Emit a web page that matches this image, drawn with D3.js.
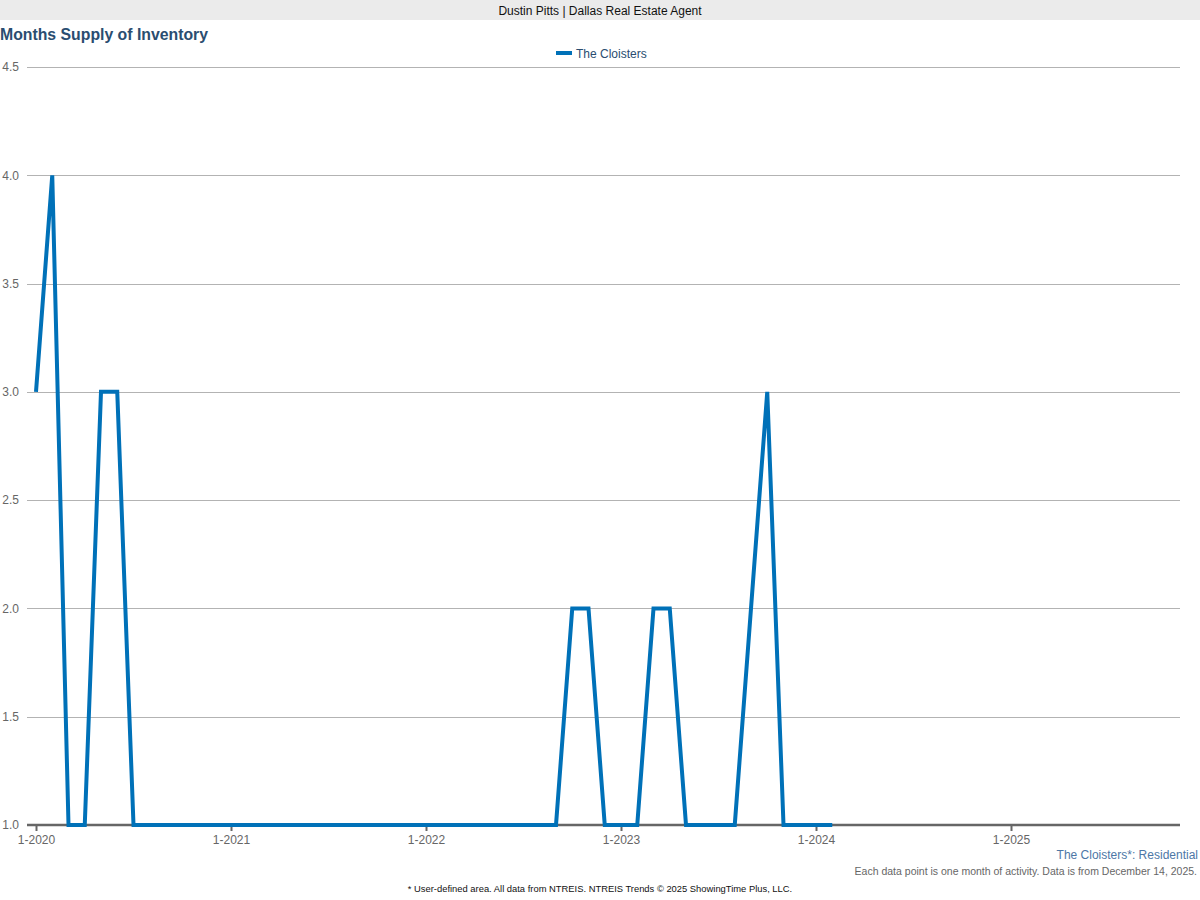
<!DOCTYPE html>
<html>
<head>
<meta charset="utf-8">
<script src="https://cdn.jsdelivr.net/npm/d3@7"></script>
<style>
  html, body { margin: 0; padding: 0; background: #fff; }
  svg { display: block; font-family: "Liberation Sans", Arial, sans-serif; }
</style>
</head>
<body>
<svg id="chart" width="1200" height="900"></svg>
<script>
// ---- data ----
const startYear = 2020;
const seriesName = "The Cloisters";
// monthly values, Jan 2020 .. Feb 2024
const months = [
  "2020-01","2020-02","2020-03","2020-04","2020-05","2020-06","2020-07","2020-08","2020-09","2020-10","2020-11","2020-12",
  "2021-01","2021-02","2021-03","2021-04","2021-05","2021-06","2021-07","2021-08","2021-09","2021-10","2021-11","2021-12",
  "2022-01","2022-02","2022-03","2022-04","2022-05","2022-06","2022-07","2022-08","2022-09","2022-10","2022-11","2022-12",
  "2023-01","2023-02","2023-03","2023-04","2023-05","2023-06","2023-07","2023-08","2023-09","2023-10","2023-11","2023-12",
  "2024-01","2024-02"
];
const values = [
  3,4,1,1,3,3,1,1,1,1,1,1,
  1,1,1,1,1,1,1,1,1,1,1,1,
  1,1,1,1,1,1,1,1,1,2,2,1,
  1,1,2,2,1,1,1,1,2,3,1,1,
  1,1
];
const xTickLabels = ["1-2020","1-2021","1-2022","1-2023","1-2024","1-2025"];
const yTickValues = [1.0,1.5,2.0,2.5,3.0,3.5,4.0,4.5];
const monthDomainEnd = 70.4; // axis runs to late 2025

// ---- layout ----
const svg = d3.select("#chart");
const W = 1200, H = 900;
const plot = { left: 36, right: 1180, top: 67, bottom: 825 };

// header bar
svg.append("rect").attr("x",0).attr("y",0).attr("width",W).attr("height",20).attr("fill","#ebebeb");
svg.append("text").attr("x",W/2).attr("y",15).attr("text-anchor","middle")
  .attr("font-size",12).attr("fill","#111").text("Dustin Pitts | Dallas Real Estate Agent");

// title
svg.append("text").attr("x",0).attr("y",40).attr("font-size",15.8).attr("font-weight","bold")
  .attr("fill","#2a4d70").text("Months Supply of Inventory");

// scales
const x = d3.scaleLinear().domain([0, monthDomainEnd]).range([plot.left, plot.left + monthDomainEnd*16.25]);
const y = d3.scaleLinear().domain([1, 4.5]).range([plot.bottom, plot.top]);

const monthIndex = m => { const [yy, mm] = m.split("-").map(Number); return (yy - startYear)*12 + (mm - 1); };
const data = months.map((m,i) => ({ t: monthIndex(m), v: values[i] }));

// gridlines + y labels
const yAxis = d3.axisLeft(y).tickValues(yTickValues).tickFormat(d3.format(".1f")).tickSize(0).tickPadding(8);
const gy = svg.append("g").attr("transform",`translate(27,0)`).call(yAxis);
gy.select(".domain").remove();
gy.selectAll("text").attr("font-size",12).attr("fill","#666").attr("font-family","Liberation Sans, Arial, sans-serif").attr("dy","0.32em");

svg.append("g").selectAll("line").data(yTickValues.filter(d => d > 1)).join("line")
  .attr("x1",27).attr("x2",plot.right).attr("y1",d => Math.round(y(d))+0.5).attr("y2",d => Math.round(y(d))+0.5)
  .attr("stroke","#b3b3b3").attr("stroke-width",1);

// x axis
const xTickPos = xTickLabels.map((d,i) => i*12);
const xAxis = d3.axisBottom(x).tickValues(xTickPos).tickFormat((d,i) => xTickLabels[i]).tickSize(6).tickPadding(4);
const gx = svg.append("g").attr("transform",`translate(0,${plot.bottom})`).call(xAxis);
gx.select(".domain").remove();
gx.selectAll(".tick line").attr("stroke","#666").attr("stroke-width",2);
gx.selectAll("text").attr("font-size",12).attr("fill","#666").attr("font-family","Liberation Sans, Arial, sans-serif");
svg.append("line").attr("x1",27).attr("x2",plot.right).attr("y1",plot.bottom).attr("y2",plot.bottom)
  .attr("stroke","#666").attr("stroke-width",2.5);

// line
const line = d3.line().x(d => x(d.t)).y(d => y(d.v));
svg.append("path").datum(data).attr("d",line).attr("fill","none")
  .attr("stroke","#0071b8").attr("stroke-width",4).attr("stroke-linejoin","miter").attr("stroke-miterlimit",10);

// legend
svg.append("rect").attr("x",556).attr("y",51).attr("width",16).attr("height",4).attr("fill","#0071b8");
svg.append("text").attr("x",576).attr("y",58).attr("font-size",12).attr("fill","#2a4d70").text(seriesName);

// footer texts
svg.append("text").attr("x",1198).attr("y",859).attr("text-anchor","end").attr("font-size",12)
  .attr("fill","#4d77a6").text("The Cloisters*: Residential");
svg.append("text").attr("x",1197).attr("y",875).attr("text-anchor","end").attr("font-size",10.5)
  .attr("fill","#666").text("Each data point is one month of activity. Data is from December 14, 2025.");
svg.append("text").attr("x",600).attr("y",892).attr("text-anchor","middle").attr("font-size",9.4)
  .attr("fill","#111").text("* User-defined area. All data from NTREIS. NTREIS Trends \u00a9 2025 ShowingTime Plus, LLC.");
</script>
</body>
</html>
